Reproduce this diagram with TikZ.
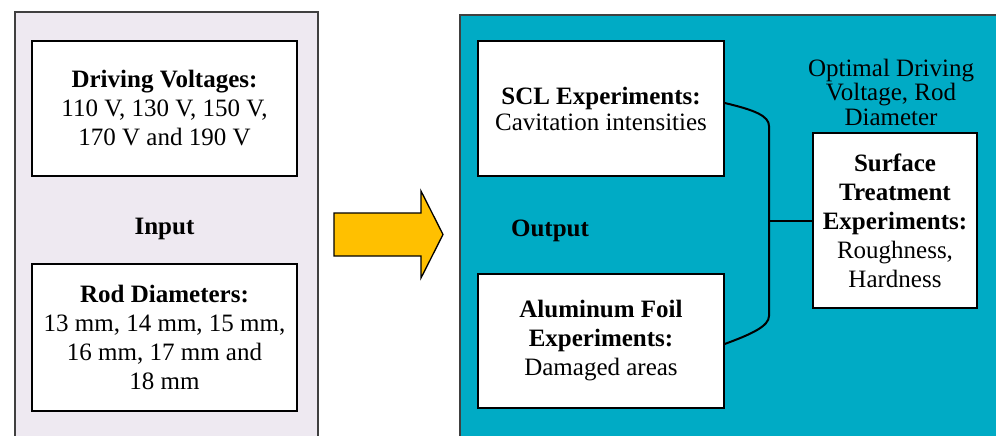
\documentclass[tikz,border=0pt]{standalone}
\usepackage{fontspec}
\setmainfont{Liberation Serif}
\definecolor{lav}{HTML}{EEE9F1}
\definecolor{teal2}{HTML}{00ABC5}
\definecolor{arrowy}{HTML}{FFC000}
\begin{document}
\begin{tikzpicture}[x=1pt,y=-1pt,
  box/.style={draw=black,line width=1.3pt,fill=white,align=center,inner sep=0pt,
    font=\fontsize{25}{29}\selectfont},
  lbl/.style={align=center,inner sep=0pt,font=\fontsize{25}{24.5}\selectfont},
  conn/.style={line width=2pt,draw=black}]
\useasboundingbox (0,0) rectangle (996,436);
\begin{scope}
\clip (0,0) rectangle (996,436);
% panels
\fill[lav] (15,12) rectangle (318,440);
\draw[line width=1.3pt,draw=black!75] (15,440) -- (15,12) -- (318,12) -- (318,440);
\fill[teal2] (460,15) rectangle (1000,440);
\draw[line width=1.3pt,draw=black!75] (460,440) -- (460,15) -- (1000,15);
\end{scope}
% input boxes
\node[box,minimum width=265pt,minimum height=135pt] (drv) at (164.5,108.5)
  {\textbf{Driving Voltages:}\\110 V, 130 V, 150 V,\\170 V and 190 V};
\node[lbl] (inp) at (164.5,229) {\textbf{Input}};
\node[box,minimum width=265pt,minimum height=147pt] (rod) at (164.5,337.5)
  {\textbf{Rod Diameters:}\\13 mm, 14 mm, 15 mm,\\16 mm, 17 mm and\\18 mm};
% big arrow
\draw[fill=arrowy,line width=1.3pt,line join=miter]
  (334,213) -- (421,213) -- (421,191) -- (443,234.5) -- (421,278) -- (421,256) -- (334,256) -- cycle;
% output boxes
\node[box,minimum width=246pt,minimum height=135pt] (scl) at (601,108.5)
  {\textbf{SCL Experiments:}\\[-3pt]Cavitation intensities};
\node[lbl] (out) at (550,231) {\textbf{Output}};
\node[box,minimum width=246pt,minimum height=134pt] (alu) at (601,341)
  {\textbf{Aluminum Foil}\\\textbf{Experiments:}\\Damaged areas};
\node[box,minimum width=164pt,minimum height=175pt] (sur) at (895,220.5)
  {\textbf{Surface}\\\textbf{Treatment}\\\textbf{Experiments:}\\Roughness,\\Hardness};
\node[lbl] (opt) at (891,92) {Optimal Driving\\Voltage, Rod\\Diameter};
% bracket connector
\coordinate (j) at (769,220.5);
\draw[conn] ([yshift=5.5pt]scl.east) .. controls +(30,7) and (769,116) .. (769,126)
  -- (769,316) .. controls (769,326) and (752,334) .. ([yshift=-3pt]alu.east);
\draw[conn] (j) -- (sur.west);
\end{tikzpicture}
\end{document}
